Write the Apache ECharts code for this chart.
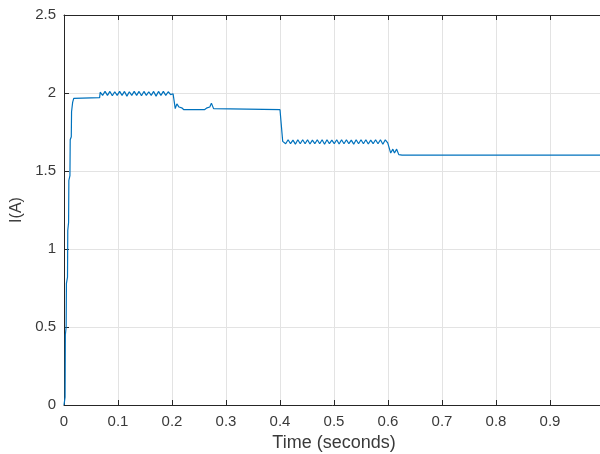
<!DOCTYPE html>
<html>
<head>
<meta charset="utf-8">
<script src="https://cdn.jsdelivr.net/npm/echarts@6/dist/echarts.min.js"></script>
<style>html,body{margin:0;padding:0;background:#fff}#c{width:600px;height:454px}</style>
</head>
<body>
<div id="c"></div>
<script>
// Time (s) and current (A)
const riseT = [0, 0.002, 0.0025, 0.004, 0.0045, 0.0065, 0.007, 0.0085, 0.009, 0.011, 0.0115, 0.0135, 0.014, 0.016, 0.018, 0.02, 0.066];
const riseI = [0, 0.05, 0.45, 0.5, 0.78, 0.82, 1.12, 1.17, 1.44, 1.47, 1.7, 1.72, 1.88, 1.94, 1.965, 1.97, 1.97];

const ripple1T = [0.067, 0.0715, 0.076, 0.0805, 0.085, 0.0895, 0.094, 0.0985, 0.103, 0.1075, 0.112, 0.1165, 0.121, 0.1255, 0.130, 0.1345, 0.139, 0.1435, 0.148, 0.1525, 0.157, 0.1615, 0.166, 0.1705, 0.175, 0.1795, 0.184, 0.1885, 0.193, 0.1975];
const ripple1I = [2.005, 1.985, 2.01, 1.985, 2.01, 1.982, 2.008, 1.985, 2.01, 1.985, 2.01, 1.98, 2.008, 1.985, 2.01, 1.985, 2.01, 1.982, 2.01, 1.985, 2.008, 1.985, 2.01, 1.98, 2.01, 1.985, 2.01, 1.985, 2.008, 1.99];

const midT = [0.2, 0.202, 0.206, 0.209, 0.213, 0.218, 0.222, 0.26, 0.265, 0.27, 0.273, 0.277, 0.28, 0.4, 0.403, 0.405];
const midI = [2.0, 1.995, 1.90, 1.93, 1.91, 1.905, 1.893, 1.893, 1.905, 1.91, 1.935, 1.9, 1.893, 1.893, 1.885, 1.69];

const ripple2T = [0.406, 0.4105, 0.415, 0.4195, 0.424, 0.4285, 0.433, 0.4375, 0.442, 0.4465, 0.451, 0.4555, 0.46, 0.4645, 0.469, 0.4735, 0.478, 0.4825, 0.487, 0.4915, 0.496, 0.5005, 0.505, 0.5095, 0.514, 0.5185, 0.523, 0.5275, 0.532, 0.5365, 0.541, 0.5455, 0.55, 0.5545, 0.559, 0.5635, 0.568, 0.5725, 0.577, 0.5815, 0.586, 0.5905, 0.595, 0.5995];
const ripple2I = [1.70, 1.675, 1.70, 1.675, 1.698, 1.672, 1.70, 1.675, 1.70, 1.675, 1.70, 1.673, 1.698, 1.675, 1.70, 1.675, 1.70, 1.672, 1.70, 1.675, 1.698, 1.675, 1.70, 1.673, 1.70, 1.675, 1.70, 1.675, 1.698, 1.672, 1.70, 1.675, 1.70, 1.675, 1.70, 1.673, 1.698, 1.675, 1.70, 1.675, 1.70, 1.672, 1.70, 1.68];

const endT = [0.602, 0.605, 0.609, 0.612, 0.616, 0.62, 0.626, 1.0];
const endI = [1.69, 1.615, 1.64, 1.615, 1.64, 1.605, 1.602, 1.602];

const xTicks = [0, 0.1, 0.2, 0.3, 0.4, 0.5, 0.6, 0.7, 0.8, 0.9];
const yTicks = [0, 0.5, 1, 1.5, 2, 2.5];

const allT = riseT.concat(ripple1T, midT, ripple2T, endT);
const allI = riseI.concat(ripple1I, midI, ripple2I, endI);
const data = allT.map((t, i) => [t, allI[i]]);

const axisCol = '#262626';
const textCol = '#3a3a3a';
const font = 'Liberation Sans, Arial, Helvetica, sans-serif';

const chart = echarts.init(document.getElementById('c'), null, {renderer: 'canvas'});
chart.setOption({
  animation: false,
  backgroundColor: '#ffffff',
  grid: {left: 64, right: -4, top: 15, bottom: 49, containLabel: false, outerBoundsMode: 'none'},
  xAxis: [{
    type: 'value', min: 0, max: 1, interval: 0.1, position: 'bottom',
    name: 'Time (seconds)', nameLocation: 'middle', nameGap: 28,
    nameTextStyle: {color: textCol, fontSize: 18, fontFamily: font},
    axisLine: {show: true, onZero: false, lineStyle: {color: axisCol, width: 1}},
    axisTick: {show: true, inside: true, length: 5, lineStyle: {color: axisCol}},
    axisLabel: {color: textCol, fontSize: 15, fontFamily: font, margin: 9,
      formatter: v => { const r = Math.round(v * 10) / 10; return xTicks.includes(r) ? String(r) : ''; }},
    splitLine: {show: true, lineStyle: {color: '#e3e3e3', width: 1}}
  }, {
    type: 'value', min: 0, max: 1, interval: 0.1, position: 'top',
    axisLine: {show: true, onZero: false, lineStyle: {color: axisCol, width: 1}},
    axisTick: {show: true, inside: true, length: 5, lineStyle: {color: axisCol}},
    axisLabel: {show: false}, splitLine: {show: false}
  }],
  yAxis: [{
    type: 'value', min: 0, max: 2.5, interval: 0.5,
    name: 'I(A)', nameLocation: 'middle', nameGap: 35,
    nameTextStyle: {color: textCol, fontSize: 16, fontFamily: font},
    axisLine: {show: true, onZero: false, lineStyle: {color: axisCol, width: 1}},
    axisTick: {show: true, inside: true, length: 5, lineStyle: {color: axisCol}},
    axisLabel: {color: textCol, fontSize: 15, fontFamily: font, margin: 8,
      formatter: v => { const r = Math.round(v * 10) / 10; return yTicks.includes(r) ? String(r) : ''; }},
    splitLine: {show: true, lineStyle: {color: '#e3e3e3', width: 1}}
  }],
  series: [{
    type: 'line', data: data, showSymbol: false, symbol: 'none',
    lineStyle: {color: '#0072BD', width: 1.2}, xAxisIndex: 0, yAxisIndex: 0
  }]
});
</script>
</body>
</html>
